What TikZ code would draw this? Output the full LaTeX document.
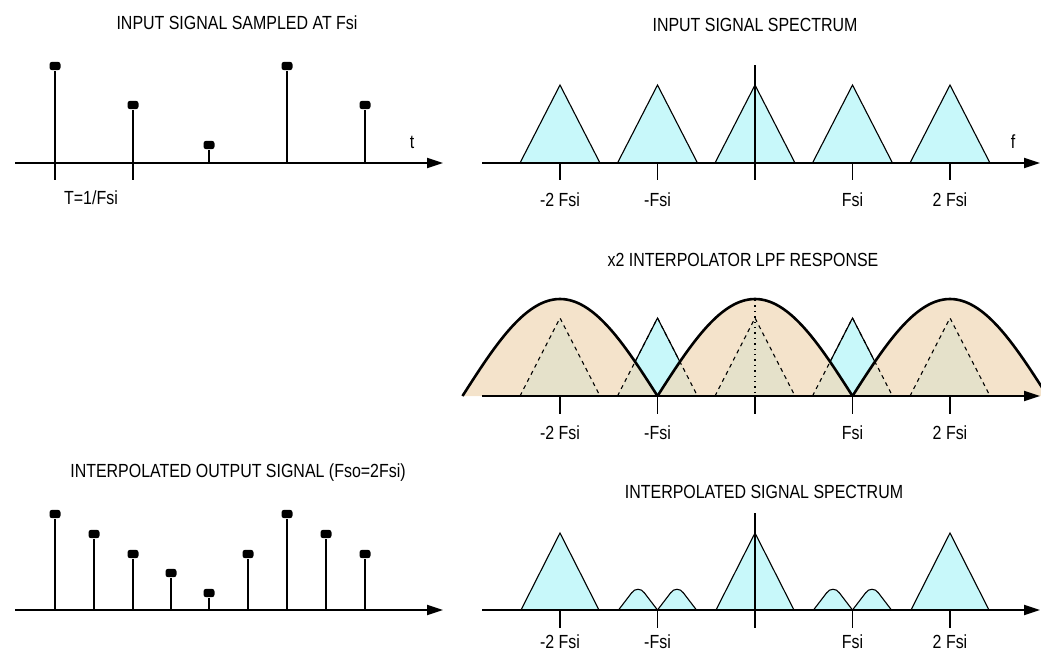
\documentclass[tikz,border=0pt]{standalone}
\usepackage{fontspec}
\setmainfont{Liberation Sans}[FakeStretch=0.84]
\usepackage{xcolor}
\usepackage{tikz}
\usetikzlibrary{arrows.meta,positioning,calc}

\definecolor{bandcyan}{RGB}{200,248,250}
\definecolor{lpftan}{RGB}{240,218,186}

\begin{document}
\begin{tikzpicture}[x=0.5pt,y=-0.5pt,
  axis/.style={line width=1pt,-{Triangle[length=8pt,width=5pt]}},
  stem/.style={line width=1pt},
  head/.style={fill=black,rounded corners=1.3pt,minimum width=5.5pt,
               minimum height=4.2pt,inner sep=0pt},
  tick/.style={line width=0.9pt},
  band/.style={fill=bandcyan,draw=black,line width=0.55pt},
  bandfill/.style={fill=bandcyan},
  hidden/.style={draw=black,line width=0.55pt,dash pattern=on 2pt off 2pt},
  lpf/.style={fill=lpftan,fill opacity=0.75,draw=black,line width=1.3pt},
  lbl/.style={font=\fontsize{9.5}{10}\selectfont,inner sep=0.5pt},
  ttl/.style={font=\fontsize{9.5}{10}\selectfont,inner sep=1pt}
]
\useasboundingbox (0,0) rectangle (1041,654);

%--- Top left: input samples ---
\node[ttl] (ttlA) at (237,23) {INPUT SIGNAL SAMPLED AT Fsi};
\coordinate (oA) at (15,163);
\coordinate (eA) at (443,163);
\draw[axis] (oA) -- (eA);
\node[lbl] (tA) at (412,142) {t};
\foreach \i/\x/\y in {1/55/66,2/133/105,3/209/145,4/287/66,5/365/105} {
  \coordinate (bA\i) at (\x,163);
  \node[head] (hA\i) at (\x,\y) {};
  \draw[stem] (bA\i) -- (hA\i);
}
\coordinate (kA1) at (55,180);
\coordinate (kA2) at (133,180);
\draw[tick] (bA1) -- (kA1);
\draw[tick] (bA2) -- (kA2);
\node[lbl] (period) at (91,198) {T=1/Fsi};

%--- Bottom left: interpolated samples ---
\node[ttl] (ttlC) at (238,473) {INTERPOLATED OUTPUT SIGNAL (Fso=2Fsi)};
\coordinate (oC) at (15,610);
\coordinate (eC) at (443,610);
\draw[axis] (oC) -- (eC);
\foreach \i/\x/\y in {1/55/514,2/94/534,3/133/554,4/171/573,5/209/593,
                      6/248/554,7/287/514,8/326/534,9/365/554} {
  \coordinate (bC\i) at (\x,610);
  \node[head] (hC\i) at (\x,\y) {};
  \draw[stem] (bC\i) -- (hC\i);
}

%--- Top right: input spectrum ---
\node[ttl] (ttlB) at (755,25) {INPUT SIGNAL SPECTRUM};
\foreach \i/\c in {1/560,2/657.5,3/755,4/852.5,5/950} {
  \filldraw[band] (\c-40,163) -- (\c,85) -- (\c+40,163);
}
\coordinate (oB) at (482,163);
\coordinate (eB) at (1040,163);
\draw[axis] (oB) -- (eB);
\coordinate (vB1) at (755,65);
\coordinate (vB2) at (755,180);
\draw[tick] (vB1) -- (vB2);
\node[lbl] (fB) at (1013,142) {f};
\foreach \i/\c/\txt in {1/560/-2 Fsi,2/657.5/-Fsi,3/852.5/Fsi,4/950/2 Fsi} {
  \coordinate (aB\i) at (\c,163);
  \coordinate (kB\i) at (\c,180);
  \draw[tick] (aB\i) -- (kB\i);
  \node[lbl] (lB\i) at (\c,200) {\txt};
}

%--- Middle right: x2 interpolator LPF ---
\node[ttl] (ttlD) at (743,260) {x2 INTERPOLATOR LPF RESPONSE};
\foreach \c in {560,657.5,755,852.5,950}
  \fill[bandfill] (\c-40,396) -- (\c,318) -- (\c+40,396) -- cycle;
\foreach \c in {560,755,950}
  \draw[lpf] plot[domain=-97.5:97.5,samples=41,smooth] ({\c+\x},{396-97*cos(90*\x/97.5)});
\foreach \c in {560,657.5,755,852.5,950}
  \draw[hidden] (\c-40,396) -- (\c,318) -- (\c+40,396);
\foreach \c in {657.5,852.5}
  \draw[black,line width=0.55pt] (\c-22,361) -- (\c,318) -- (\c+22,361);
\coordinate (oD) at (482,396);
\coordinate (eD) at (1040,396);
\draw[axis] (oD) -- (eD);
\coordinate (vD1) at (755,300);
\coordinate (vD2) at (755,396);
\coordinate (vD3) at (755,414);
\draw[line width=0.7pt,dotted] (vD1) -- (vD2);
\draw[tick] (vD2) -- (vD3);
\foreach \i/\c/\txt in {1/560/-2 Fsi,2/657.5/-Fsi,3/852.5/Fsi,4/950/2 Fsi} {
  \coordinate (aD\i) at (\c,396);
  \coordinate (kD\i) at (\c,414);
  \draw[tick] (aD\i) -- (kD\i);
  \node[lbl] (lD\i) at (\c,433) {\txt};
}

%--- Bottom right: interpolated spectrum ---
\node[ttl] (ttlE) at (764,492) {INTERPOLATED SIGNAL SPECTRUM};
\foreach \c in {560,755,950}
  \filldraw[band] (\c-39,610) -- (\c,533) -- (\c+39,610);
% attenuated images around +-Fsi
\foreach \a in {618.5,657.5,813.5,852.5}
  \filldraw[band] (\a,610) -- (\a+13,593) .. controls (\a+16,588) and (\a+23,588)
    .. (\a+26,593) -- (\a+39,610);
\coordinate (oE) at (482,610);
\coordinate (eE) at (1040,610);
\draw[axis] (oE) -- (eE);
\coordinate (vE1) at (755,513);
\coordinate (vE2) at (755,628);
\draw[tick] (vE1) -- (vE2);
\foreach \i/\c/\txt in {1/560/-2 Fsi,2/657.5/-Fsi,3/852.5/Fsi,4/950/2 Fsi} {
  \coordinate (aE\i) at (\c,610);
  \coordinate (kE\i) at (\c,628);
  \draw[tick] (aE\i) -- (kE\i);
  \node[lbl] (lE\i) at (\c,642) {\txt};
}
\end{tikzpicture}
\end{document}
